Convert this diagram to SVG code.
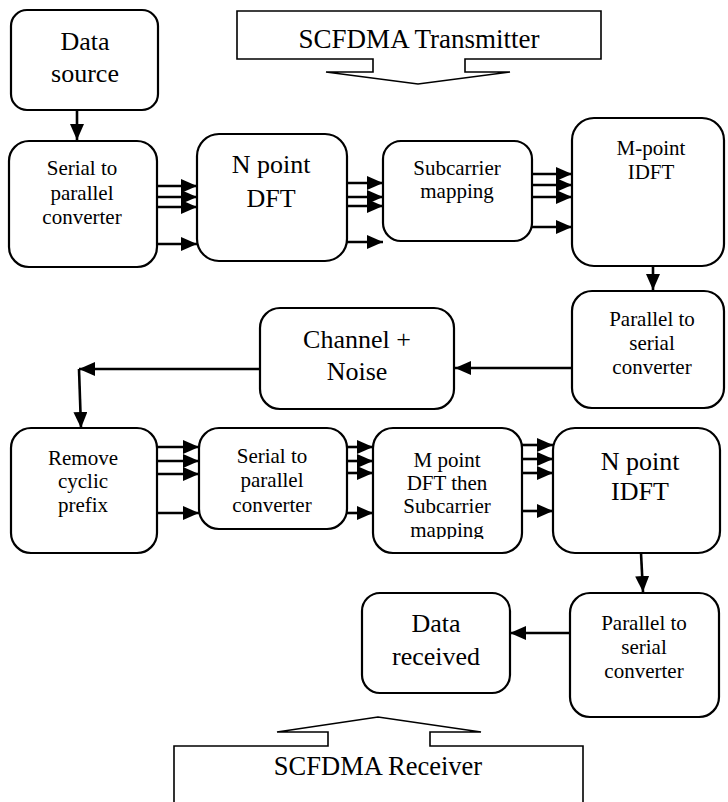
<svg xmlns="http://www.w3.org/2000/svg" width="728" height="802" viewBox="0 0 728 802">
<style>
.box{fill:#fff;stroke:#000;stroke-width:2.2}
.call{fill:#fff;stroke:#000;stroke-width:1.6}
.t{fill:#000;text-anchor:middle}
.s{font-size:21px}
.l{font-size:26px}
.a{stroke:#000;stroke-width:2.6;fill:none;marker-end:url(#ah)}
</style>
<defs>
<marker id="ah" markerUnits="userSpaceOnUse" viewBox="0 0 16 14" refX="16" refY="7" markerWidth="16" markerHeight="14" orient="auto">
<path d="M0,0 L16,7 L0,14 Z" fill="#000"/>
</marker>
<clipPath id="clipM"><rect x="373" y="428" width="149" height="111"/></clipPath>
</defs>
<rect width="728" height="802" fill="#fff"/>
<g font-family="Liberation Serif, Times New Roman, DejaVu Serif, serif">

<g id="tx-label">
<path class="call" d="M237,11 H601 V59 H465 V72 H510 L418,84 L326,72 H373 V59 H237 Z"/>
<text class="t" x="419" y="48" font-size="27">SCFDMA Transmitter</text>
</g>

<g id="data-source">
<rect class="box" x="11" y="10" width="147" height="100" rx="16"/>
<text class="t l" x="85" y="50">Data</text>
<text class="t l" x="85" y="82">source</text>
</g>

<g id="serial-parallel-1">
<rect class="box" x="9" y="141" width="148" height="126" rx="20"/>
<text class="t s" x="82" y="175">Serial to</text>
<text class="t s" x="82" y="200">parallel</text>
<text class="t s" x="82" y="224">converter</text>
</g>

<g id="n-point-dft">
<rect class="box" x="197" y="134" width="150" height="127" rx="22"/>
<text class="t l" x="271" y="173">N point</text>
<text class="t l" x="271" y="207">DFT</text>
</g>

<g id="subcarrier-mapping">
<rect class="box" x="383" y="141" width="149" height="100" rx="18"/>
<text class="t s" x="457" y="175">Subcarrier</text>
<text class="t s" x="457" y="198">mapping</text>
</g>

<g id="m-point-idft">
<rect class="box" x="572" y="118" width="152" height="148" rx="22"/>
<text class="t s" x="651" y="155">M-point</text>
<text class="t s" x="651" y="179">IDFT</text>
</g>

<g id="parallel-serial-1">
<rect class="box" x="572" y="291" width="152" height="117" rx="20"/>
<text class="t s" x="652" y="326">Parallel to</text>
<text class="t s" x="652" y="350">serial</text>
<text class="t s" x="652" y="374">converter</text>
</g>

<g id="channel-noise">
<rect class="box" x="260" y="308" width="194" height="101" rx="20"/>
<text class="t l" x="357" y="348">Channel +</text>
<text class="t l" x="357" y="380">Noise</text>
</g>

<g id="remove-cp">
<rect class="box" x="11" y="428" width="146" height="125" rx="20"/>
<text class="t s" x="83" y="465">Remove</text>
<text class="t s" x="83" y="488">cyclic</text>
<text class="t s" x="83" y="512">prefix</text>
</g>

<g id="serial-parallel-2">
<rect class="box" x="199" y="428" width="148" height="101" rx="20"/>
<text class="t s" x="272" y="463">Serial to</text>
<text class="t s" x="272" y="487">parallel</text>
<text class="t s" x="272" y="512">converter</text>
</g>

<g id="m-point-dft">
<rect class="box" x="373" y="428" width="149" height="125" rx="20"/>
<g clip-path="url(#clipM)">
<text class="t s" x="447" y="467">M point</text>
<text class="t s" x="447" y="490">DFT then</text>
<text class="t s" x="447" y="513">Subcarrier</text>
<text class="t s" x="447" y="537">mapping</text>
</g>
</g>

<g id="n-point-idft">
<rect class="box" x="553" y="428" width="167" height="125" rx="22"/>
<text class="t l" x="640" y="470">N point</text>
<text class="t l" x="640" y="500">IDFT</text>
</g>

<g id="parallel-serial-2">
<rect class="box" x="570" y="593" width="149" height="124" rx="20"/>
<text class="t s" x="644" y="630">Parallel to</text>
<text class="t s" x="644" y="654">serial</text>
<text class="t s" x="644" y="678">converter</text>
</g>

<g id="data-received">
<rect class="box" x="362" y="593" width="148" height="100" rx="18"/>
<text class="t l" x="436" y="632">Data</text>
<text class="t l" x="436" y="665">received</text>
</g>

<g id="rx-label">
<path class="call" d="M174,806 V746 H328 V732 H277 L378,717 L481,732 H430 V746 H583 V806"/>
<text class="t" x="378" y="775" font-size="26.5">SCFDMA Receiver</text>
</g>
</g>

<g id="connectors">
<path class="a" d="M77,110 V140"/>
<path class="a" d="M157,186 H197"/>
<path class="a" d="M157,197 H197"/>
<path class="a" d="M157,207 H197"/>
<path class="a" d="M157,244 H197"/>
<path class="a" d="M347,183 H383"/>
<path class="a" d="M347,197 H383"/>
<path class="a" d="M347,206 H383"/>
<path class="a" d="M347,242 H383"/>
<path class="a" d="M532,174 H572"/>
<path class="a" d="M532,185 H572"/>
<path class="a" d="M532,197 H572"/>
<path class="a" d="M532,227 H572"/>
<path class="a" d="M653,266 V290"/>
<path class="a" d="M572,368 H455"/>
<path class="a" d="M260,369 H79"/>
<path class="a" d="M79,369 L81,428"/>
<path class="a" d="M157,447 H199"/>
<path class="a" d="M157,461 H199"/>
<path class="a" d="M157,474 H199"/>
<path class="a" d="M157,513 H199"/>
<path class="a" d="M347,447 H373"/>
<path class="a" d="M347,461 H373"/>
<path class="a" d="M347,473 H373"/>
<path class="a" d="M347,513 H373"/>
<path class="a" d="M522,445 H553"/>
<path class="a" d="M522,459 H553"/>
<path class="a" d="M522,473 H553"/>
<path class="a" d="M522,511 H553"/>
<path class="a" d="M641,553 L643,592"/>
<path class="a" d="M570,633 H510"/>
</g>
</svg>
